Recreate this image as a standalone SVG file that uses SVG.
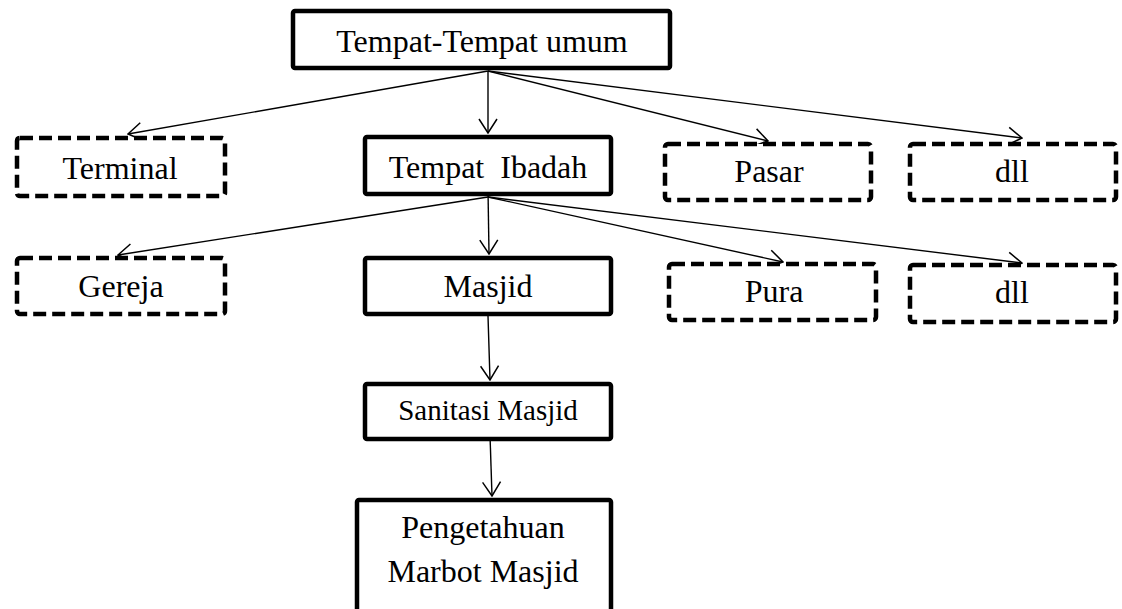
<svg xmlns="http://www.w3.org/2000/svg" width="1122" height="609" viewBox="0 0 1122 609">
<style>
.solid{fill:#fff;stroke:#000;stroke-width:4.5;stroke-linejoin:round}
.dash{fill:#fff;stroke:#000;stroke-width:4.5;stroke-dasharray:13 6;stroke-linejoin:round}
.t{font-family:"Liberation Serif","Times New Roman",serif;font-size:32px;fill:#000;text-anchor:middle}
.t.s{font-size:29px}
.c{fill:none;stroke:#000;stroke-width:1.4;marker-end:url(#arr)}
</style>
<defs>
<marker id="arr" viewBox="0 0 16 20" refX="15" refY="10" markerWidth="16" markerHeight="20" markerUnits="userSpaceOnUse" orient="auto">
<path d="M1,1 L15,10 L1,19" fill="none" stroke="#000" stroke-width="1.5"/>
</marker>
</defs>
<rect width="1122" height="609" fill="#fff"/>
<g id="connectors">
<line class="c" x1="488" y1="71" x2="128" y2="134"/>
<line class="c" x1="488" y1="71" x2="488" y2="133"/>
<line class="c" x1="488" y1="71" x2="768" y2="141"/>
<line class="c" x1="488" y1="71" x2="1022" y2="138"/>
<line class="c" x1="488" y1="197" x2="118" y2="255"/>
<line class="c" x1="488" y1="190" x2="489" y2="254"/>
<line class="c" x1="488" y1="197" x2="783" y2="262"/>
<line class="c" x1="488" y1="197" x2="1022" y2="263"/>
<line class="c" x1="488" y1="316" x2="490" y2="380"/>
<line class="c" x1="490" y1="435" x2="492" y2="496"/>
</g>
<g id="n-umum">
<rect class="solid" x="293" y="11" width="377" height="57" rx="2"/>
<text class="t" x="482" y="52">Tempat-Tempat umum</text>
</g>
<g id="n-terminal">
<rect class="dash" x="17" y="138" width="208" height="58" rx="3"/>
<text class="t" x="120" y="179">Terminal</text>
</g>
<g id="n-ibadah">
<rect class="solid" x="365" y="137" width="246" height="57" rx="2"/>
<text class="t" x="488" y="178" xml:space="preserve">Tempat  Ibadah</text>
</g>
<g id="n-pasar">
<rect class="dash" x="665" y="144" width="206" height="56" rx="3"/>
<text class="t" x="769" y="182">Pasar</text>
</g>
<g id="n-dll1">
<rect class="dash" x="910" y="144" width="206" height="56" rx="3"/>
<text class="t" x="1012" y="182">dll</text>
</g>
<g id="n-gereja">
<rect class="dash" x="17" y="258" width="208" height="56" rx="3"/>
<text class="t" x="121" y="297">Gereja</text>
</g>
<g id="n-masjid">
<rect class="solid" x="365" y="258" width="246" height="56" rx="2"/>
<text class="t" x="488" y="297">Masjid</text>
</g>
<g id="n-pura">
<rect class="dash" x="669" y="264" width="207" height="56" rx="3"/>
<text class="t" x="774" y="302">Pura</text>
</g>
<g id="n-dll2">
<rect class="dash" x="910" y="265" width="206" height="57" rx="3"/>
<text class="t" x="1012" y="303">dll</text>
</g>
<g id="n-sanitasi">
<rect class="solid" x="365" y="384" width="246" height="55" rx="2"/>
<text class="t s" x="488" y="420">Sanitasi Masjid</text>
</g>
<g id="n-pengetahuan">
<rect class="solid" x="357" y="500" width="254" height="130" rx="2"/>
<text class="t" x="483" y="538">Pengetahuan</text>
<text class="t" x="483" y="582">Marbot Masjid</text>
</g>
</svg>
